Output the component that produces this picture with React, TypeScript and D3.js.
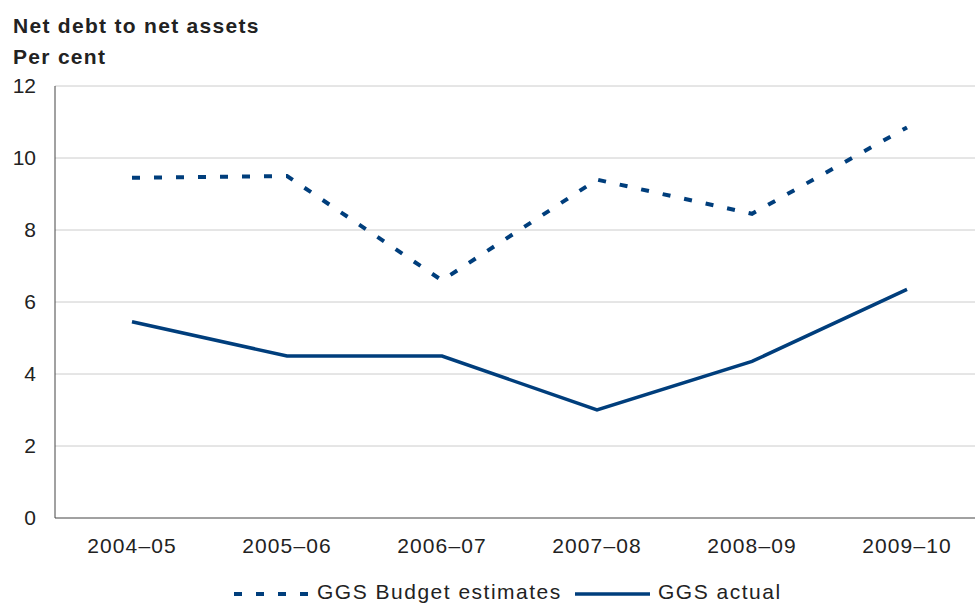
import React from "react";
import * as d3 from "d3";

const categories = ["2004–05", "2005–06", "2006–07", "2007–08", "2008–09", "2009–10"];
const budgetEstimates = [9.45, 9.5, 6.6, 9.4, 8.45, 10.85];
const ggsActual = [5.45, 4.5, 4.5, 3.0, 4.35, 6.35];
const yTicks = [0, 2, 4, 6, 8, 10, 12];
const seriesNames = ["GGS Budget estimates", "GGS actual"];
const titleLines = ["Net debt to net assets", "Per cent"];

const W = 975;
const H = 604;
const left = 55;
const right = 975;
const top = 86;
const bottom = 518;
const COLOR = "#003e7c";
const FONT = "Liberation Sans, Arial, Helvetica, sans-serif";

export default function App() {
  const x = d3.scaleBand<string>().domain(categories).range([54.5, 984.5]).padding(0);
  const y = d3.scaleLinear().domain([0, 12]).range([bottom, top]);
  const cx = (c: string) => (x(c) as number) + x.bandwidth() / 2;

  const line = d3
    .line<number>()
    .x((_, i) => cx(categories[i]))
    .y((d) => y(d));

  return (
    <svg
      width={W}
      height={H}
      style={{ position: "absolute", left: 0, top: 0, background: "#fff" }}
      fontFamily={FONT}
    >
      <rect x={0} y={0} width={W} height={H} fill="#fff" />
      {/* title */}
      <text x={13} y={33} fontSize={21} fontWeight="bold" fill="#222" letterSpacing={1.3}>
        {titleLines[0]}
      </text>
      <text x={13} y={64} fontSize={21} fontWeight="bold" fill="#222" letterSpacing={1.3}>
        {titleLines[1]}
      </text>

      {/* gridlines */}
      {yTicks
        .filter((t) => t !== 0)
        .map((t) => (
          <line key={t} x1={left} x2={right} y1={y(t)} y2={y(t)} stroke="#cccccc" strokeWidth={1} />
        ))}

      {/* y tick labels */}
      {yTicks.map((t) => (
        <text
          key={t}
          x={36}
          y={y(t)}
          dy="0.35em"
          textAnchor="end"
          fontSize={21}
          fill="#222"
        >
          {t}
        </text>
      ))}

      {/* axes */}
      <line x1={left} x2={left} y1={top} y2={bottom} stroke="#444" strokeWidth={1} />
      <line x1={left} x2={right} y1={bottom} y2={bottom} stroke="#444" strokeWidth={1} />

      {/* x labels */}
      {categories.map((c) => (
        <text key={c} x={cx(c)} y={553} textAnchor="middle" fontSize={21} fill="#222" letterSpacing={1.1}>
          {c}
        </text>
      ))}

      {/* series */}
      <path
        d={line(budgetEstimates) || ""}
        fill="none"
        stroke={COLOR}
        strokeWidth={4}
        strokeDasharray="8 14"
      />
      <path d={line(ggsActual) || ""} fill="none" stroke={COLOR} strokeWidth={3.5} strokeLinejoin="miter" />

      {/* legend */}
      <line x1={234} x2={308} y1={594} y2={594} stroke={COLOR} strokeWidth={4} strokeDasharray="8 14" />
      <text x={317} y={599} fontSize={21} fill="#222" letterSpacing={1.5}>
        {seriesNames[0]}
      </text>
      <line x1={575} x2={650} y1={594} y2={594} stroke={COLOR} strokeWidth={3.5} />
      <text x={658} y={599} fontSize={21} fill="#222" letterSpacing={1.5}>
        {seriesNames[1]}
      </text>
    </svg>
  );
}
